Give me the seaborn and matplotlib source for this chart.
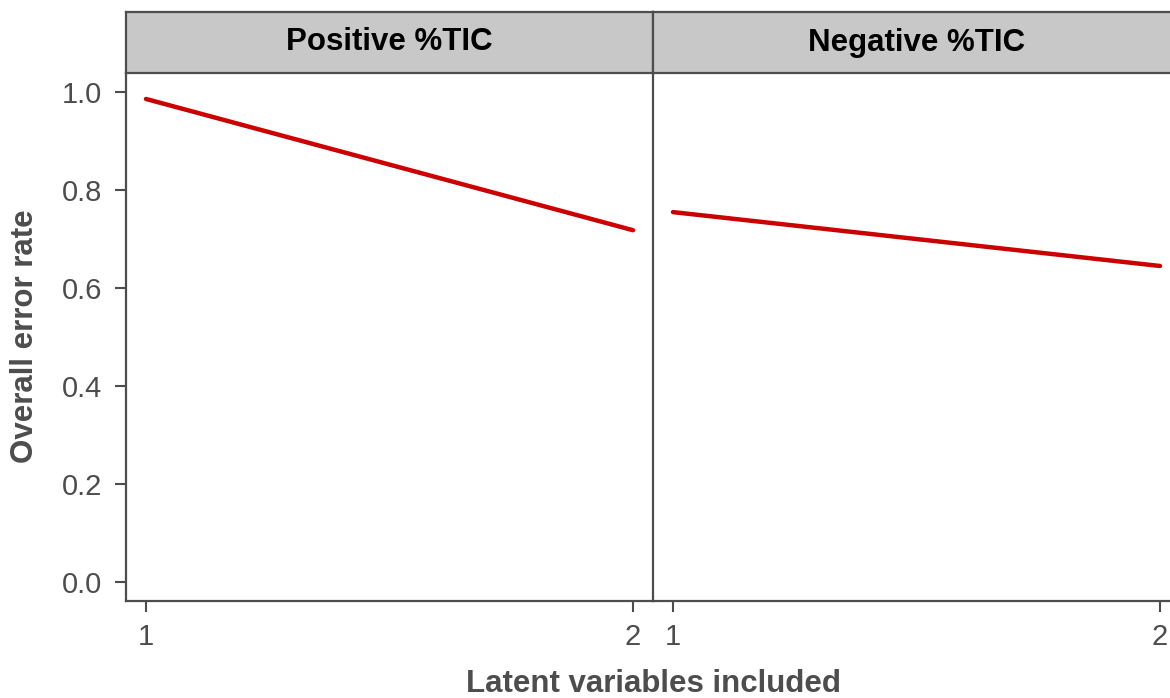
import matplotlib
matplotlib.use("Agg")
import matplotlib.pyplot as plt
import seaborn as sns
import pandas as pd

# Data
panels = ["Positive %TIC", "Negative %TIC"]
latent_vars = [1, 2]
error_positive = [0.986, 0.718]
error_negative = [0.755, 0.645]

df = pd.DataFrame({
    "panel": [panels[0]] * 2 + [panels[1]] * 2,
    "lv": latent_vars + latent_vars,
    "error": error_positive + error_negative,
})

sns.set_theme(style="white")
plt.rcParams["font.family"] = ["Liberation Sans", "DejaVu Sans"]

grey = "#4d4d4d"
W, H = 1170, 698
g = sns.FacetGrid(df, col="panel", col_order=panels, sharey=True, sharex=False,
                  despine=False)
g.figure.set_size_inches(W / 100, H / 100)
g.figure.set_dpi(100)
g.map_dataframe(sns.lineplot, x="lv", y="error", color="#cc0000", linewidth=3.2)

fig = g.figure
# panel boxes in pixel coordinates (left, right)
boxes = [(126, 653), (653, 1180)]
top_px, bot_px = 73, 601
strip_top = 12

for ax, (l, r), name in zip(g.axes.flat, boxes, panels):
    ax.set_position([l / W, 1 - bot_px / H, (r - l) / W, (bot_px - top_px) / H])
    ax.set_xlim(1 - 0.041, 2 + 0.041)
    ax.set_ylim(-0.039, 1.039)
    ax.set_xticks(latent_vars)
    ax.set_xticklabels([str(v) for v in latent_vars])
    ax.set_yticks([0.0, 0.2, 0.4, 0.6, 0.8, 1.0])
    ax.set_title("")
    ax.set_xlabel("")
    ax.set_ylabel("")
    for side in ("top", "right"):
        ax.spines[side].set_visible(False)
    for side in ("left", "bottom"):
        ax.spines[side].set_color(grey)
        ax.spines[side].set_linewidth(1.6)
    ax.tick_params(axis="both", which="both", direction="out", length=8, width=1.5,
                   color=grey, labelcolor=grey, labelsize=21,
                   bottom=True, left=True)
    ax.tick_params(axis="x", pad=8)
    ax.tick_params(axis="y", pad=9)
    ax.grid(False)

    # facet strip
    sax = fig.add_axes([l / W, 1 - top_px / H, (r - l) / W, (top_px - strip_top) / H])
    sax.set_facecolor("#c8c8c8")
    sax.set_xticks([])
    sax.set_yticks([])
    for sp in sax.spines.values():
        sp.set_color(grey)
        sp.set_linewidth(1.6)
    sax.text(0.5, 0.5, name, ha="center", va="center", fontsize=22.5,
             fontweight="bold", color="black", transform=sax.transAxes)

g.axes.flat[1].tick_params(axis="y", left=False, labelleft=False)

fig.text(25 / W, 1 - 336 / H, "Overall error rate", rotation=90, ha="center",
         va="center", fontsize=22.5, fontweight="bold", color=grey)
fig.text(653 / W, 1 - 684 / H, "Latent variables included", ha="center",
         va="center", fontsize=22.5, fontweight="bold", color=grey)

fig.savefig("out.png", dpi=100)
